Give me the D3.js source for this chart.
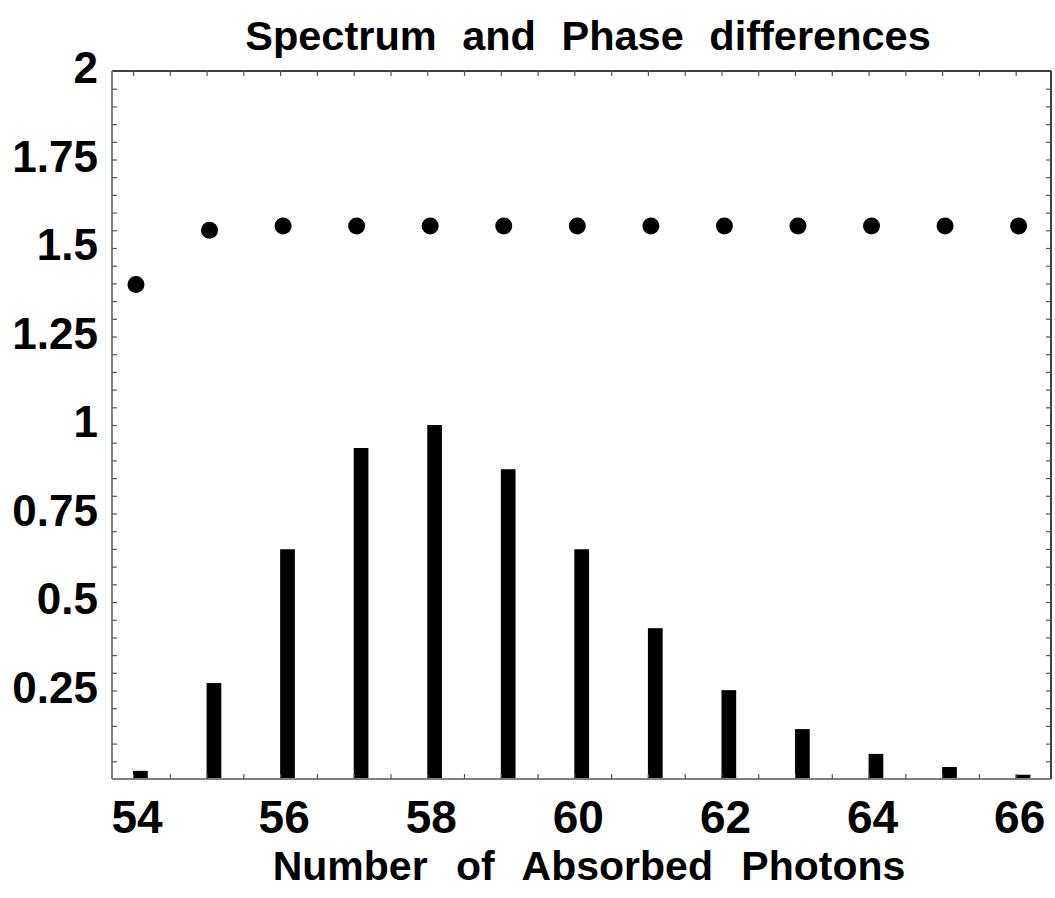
<!DOCTYPE html>
<html>
<head>
<meta charset="utf-8">
<script src="https://cdn.jsdelivr.net/npm/d3@7"></script>
<style>
  html, body { margin: 0; padding: 0; background: #fff; }
  svg { display: block; }
  text { font-family: "Liberation Sans", Arial, sans-serif; font-weight: bold; fill: #000; }
</style>
</head>
<body>
<svg id="chart" width="1055" height="898"></svg>
<script>
// ---- data ----
const photons   = [54, 55, 56, 57, 58, 59, 60, 61, 62, 63, 64, 65, 66];
const spectrum  = [0.023, 0.271, 0.649, 0.935, 1.0, 0.875, 0.649, 0.426, 0.251, 0.141, 0.071, 0.034, 0.012];
const phaseDiff = [1.397, 1.550, 1.562, 1.562, 1.562, 1.562, 1.562, 1.562, 1.562, 1.562, 1.562, 1.562, 1.562];
const xTickLabels = [54, 56, 58, 60, 62, 64, 66];
const yTickLabels = [0.25, 0.5, 0.75, 1, 1.25, 1.5, 1.75, 2];
const titleText = "Spectrum and Phase differences";
const xLabelText = "Number of Absorbed Photons";

// ---- layout ----
const pL = 112, pR = 1051, pT = 71, pB = 779;
const svg = d3.select("#chart");

const x = d3.scaleLinear().domain([53.714, 66.48]).range([pL, pR]);
const y = d3.scaleLinear().domain([0, 2]).range([pB, pT]);

const barWidth = 0.2;   // in data units
const dotOffset = 0.04;

// bars
svg.append("g").selectAll("rect")
  .data(photons.map((p, i) => ({p, v: spectrum[i]})))
  .join("rect")
  .attr("x", d => x(d.p))
  .attr("width", d => x(d.p + barWidth) - x(d.p))
  .attr("y", d => y(d.v))
  .attr("height", d => y(0) - y(d.v))
  .attr("fill", "#000");

// dots
svg.append("g").selectAll("circle")
  .data(photons.map((p, i) => ({p, v: phaseDiff[i]})))
  .join("circle")
  .attr("cx", d => x(d.p + dotOffset))
  .attr("cy", d => y(d.v))
  .attr("r", 8.5)
  .attr("fill", "#000");

// tick values
const xMinor = d3.range(54, 66.01, 0.5);
const yMinor = d3.range(1, 40).map(k => k * 0.05);
const tickLen = 5;

// frame (top/right black, left/bottom gray)
svg.append("line").attr("x1", pL).attr("x2", pR).attr("y1", pT).attr("y2", pT)
  .attr("stroke", "#000").attr("stroke-width", 1.5);
svg.append("line").attr("x1", pR).attr("x2", pR).attr("y1", pT).attr("y2", pB)
  .attr("stroke", "#000").attr("stroke-width", 1.5);

// bottom axis (ticks inward)
const xAxisB = d3.axisBottom(x).tickValues(xMinor).tickSize(-tickLen).tickFormat("");
const gB = svg.append("g").attr("transform", `translate(0,${pB})`).call(xAxisB);
gB.select(".domain").attr("stroke", "#808080").attr("stroke-width", 2).attr("d", `M${pL},0H${pR}`);
gB.selectAll(".tick line").attr("stroke", "#555").attr("stroke-width", 1.2);

// top axis ticks
const xAxisT = d3.axisTop(x).tickValues(xMinor).tickSize(-tickLen).tickFormat("");
const gT = svg.append("g").attr("transform", `translate(0,${pT})`).call(xAxisT);
gT.select(".domain").remove();
gT.selectAll(".tick line").attr("stroke", "#555").attr("stroke-width", 1.2);

// left axis
const yAxisL = d3.axisLeft(y).tickValues(yMinor).tickSize(-tickLen).tickFormat("");
const gL = svg.append("g").attr("transform", `translate(${pL},0)`).call(yAxisL);
gL.select(".domain").attr("stroke", "#808080").attr("stroke-width", 2).attr("d", `M0,${pT}V${pB}`);
gL.selectAll(".tick line").attr("stroke", "#555").attr("stroke-width", 1.2);

// right axis ticks
const yAxisR = d3.axisRight(y).tickValues(yMinor).tickSize(-tickLen).tickFormat("");
const gR = svg.append("g").attr("transform", `translate(${pR},0)`).call(yAxisR);
gR.select(".domain").remove();
gR.selectAll(".tick line").attr("stroke", "#555").attr("stroke-width", 1.2);

// x tick labels
svg.append("g").selectAll("text")
  .data(xTickLabels)
  .join("text")
  .attr("x", d => x(d) + 4)
  .attr("y", 833)
  .attr("text-anchor", "middle")
  .style("font-size", "46px")
  .text(d => d);

// y tick labels
svg.append("g").selectAll("text")
  .data(yTickLabels)
  .join("text")
  .attr("x", 98)
  .attr("y", d => y(d) + 12)
  .attr("text-anchor", "end")
  .style("font-size", "44px")
  .text(d => d);

// title
svg.append("text")
  .attr("x", 588).attr("y", 50)
  .attr("text-anchor", "middle")
  .style("font-size", "41.5px")
  .style("word-spacing", "14px")
  .text(titleText);

// x axis label
svg.append("text")
  .attr("x", 589).attr("y", 880)
  .attr("text-anchor", "middle")
  .style("font-size", "41px")
  .style("word-spacing", "17px")
  .text(xLabelText);
</script>
</body>
</html>
